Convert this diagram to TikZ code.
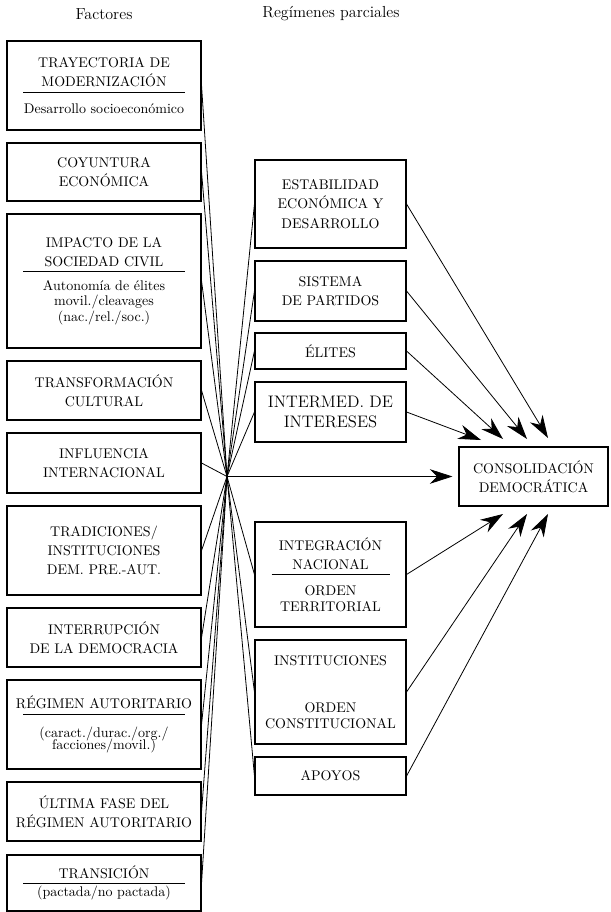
\documentclass[tikz,border=0pt]{standalone}
\usepackage{tikz}
\usetikzlibrary{arrows.meta}
\newcommand{\sep}[1]{\rule{#1}{0.5pt}}
\newcommand{\low}{\fontsize{10.5}{11.6}\selectfont}

\begin{document}
\begin{tikzpicture}[x=0.75pt,y=-0.75pt,
    box/.style={draw,line width=0.8pt,align=center,inner sep=0pt,font=\fontsize{10.5}{14}\selectfont},
    lbox/.style={box,minimum width=145.5pt},
    rbox/.style={box,minimum width=113.25pt},
    fan/.style={line width=0.6pt},
    arr/.style={line width=0.6pt,-{Stealth[length=17pt,width=11pt,inset=5.5pt]}}]
  \useasboundingbox (0,0) rectangle (610,912);
  \node[font=\fontsize{12}{14}\selectfont] (T1) at (104,14) {Factores};
  \node[font=\fontsize{12}{14}\selectfont] (T2) at (331,14) {Regímenes parciales};
  % factores
  \node[lbox,minimum height=66.75pt] (F1) at (104,85.5) {TRAYECTORIA DE\\MODERNIZACIÓN\\[-9.5pt]\sep{121.5pt}\\[1.75pt]{\low Desarrollo socioeconómico}};
  \node[lbox,minimum height=43.5pt] (F2) at (104,172) {COYUNTURA\\ECONÓMICA};
  \node[lbox,minimum height=100.5pt] (F3) at (104,281) {IMPACTO DE LA\\SOCIEDAD CIVIL\\[-9.5pt]\sep{121.5pt}\\[-0.5pt]{\low Autonomía de élites}\\[-2.4pt]{\low movil./cleavages}\\[-2.4pt]{\low (nac./rel./soc.)}};
  \node[lbox,minimum height=44.25pt] (F4) at (104,390.5) {TRANSFORMACIÓN\\CULTURAL};
  \node[lbox,minimum height=45pt] (F5) at (104,463) {INFLUENCIA\\INTERNACIONAL};
  \node[lbox,minimum height=66.75pt] (F6) at (104,550.5) {TRADICIONES/\\INSTITUCIONES\\DEM. PRE.-AUT.};
  \node[lbox,minimum height=44.25pt] (F7) at (104,637.5) {INTERRUPCIÓN\\DE LA DEMOCRACIA};
  \node[lbox,minimum height=66.75pt] (F8) at (104,724.5) {RÉGIMEN AUTORITARIO\\[-9.5pt]\sep{121.5pt}\\[3.25pt]{\low (caract./durac./org./}\\[-5pt]{\low facciones/movil.)}};
  \node[lbox,minimum height=44.25pt] (F9) at (104,811.5) {ÚLTIMA FASE DEL\\RÉGIMEN AUTORITARIO};
  \node[lbox,minimum height=42pt] (F10) at (104,883) {TRANSICIÓN\\[-10pt]\sep{121.5pt}\\[-4.25pt]{\low (pactada/no pactada)}};
  % regimenes parciales
  \node[rbox,minimum height=66pt] (R1) at (330.5,204) {ESTABILIDAD\\[0.6pt]ECONÓMICA Y\\[0.6pt]DESARROLLO};
  \node[rbox,minimum height=45pt] (R2) at (330.5,291) {SISTEMA\\DE PARTIDOS};
  \node[rbox,minimum height=27pt] (R3) at (330.5,351) {ÉLITES};
  \node[rbox,minimum height=45pt,font=\fontsize{12.5}{15}\selectfont] (R4) at (330.5,412) {INTERMED. DE\\INTERESES};
  \node[rbox,minimum height=78.75pt] (R5) at (330.5,574.5) {INTEGRACIÓN\\NACIONAL\\[-9.5pt]\sep{88.5pt}\\[1pt]ORDEN\\[-2pt]TERRITORIAL};
  \node[rbox,minimum height=78pt] (R6) at (330.5,692) {INSTITUCIONES\\[21.25pt]ORDEN\\[-2pt]CONSTITUCIONAL};
  \node[rbox,minimum height=28.5pt] (R7) at (330.5,776) {APOYOS};
  \node[box,minimum width=111.75pt,minimum height=44.25pt] (C) at (533.5,476.5) {CONSOLIDACIÓN\\DEMOCRÁTICA};
  % cruce y puntas
  \coordinate (H) at (227,476.5);
  \coordinate (N1) at (548,438);
  \coordinate (N2) at (527,439);
  \coordinate (N3) at (503,439);
  \coordinate (N4) at (481,440);
  \coordinate (S1) at (503,514);
  \coordinate (S2) at (527,514);
  \coordinate (S3) at (548,514);
  \foreach \n in {F1,F2,F3,F4,F5,F6,F7,F8,F9,F10}
    \draw[fan] (\n.east) -- (H);
  \foreach \n in {R1,R2,R3,R4,R5,R6,R7}
    \draw[fan] (H) -- (\n.west);
  \draw[arr,shorten >=4.5pt] (H) -- (C.west);
  \draw[arr] (R1.east) -- (N1);
  \draw[arr] (R2.east) -- (N2);
  \draw[arr] (R3.east) -- (N3);
  \draw[arr] (R4.east) -- (N4);
  \draw[arr] (R5.east) -- (S1);
  \draw[arr] (R6.east) -- (S2);
  \draw[arr] (R7.east) -- (S3);
\end{tikzpicture}
\end{document}
